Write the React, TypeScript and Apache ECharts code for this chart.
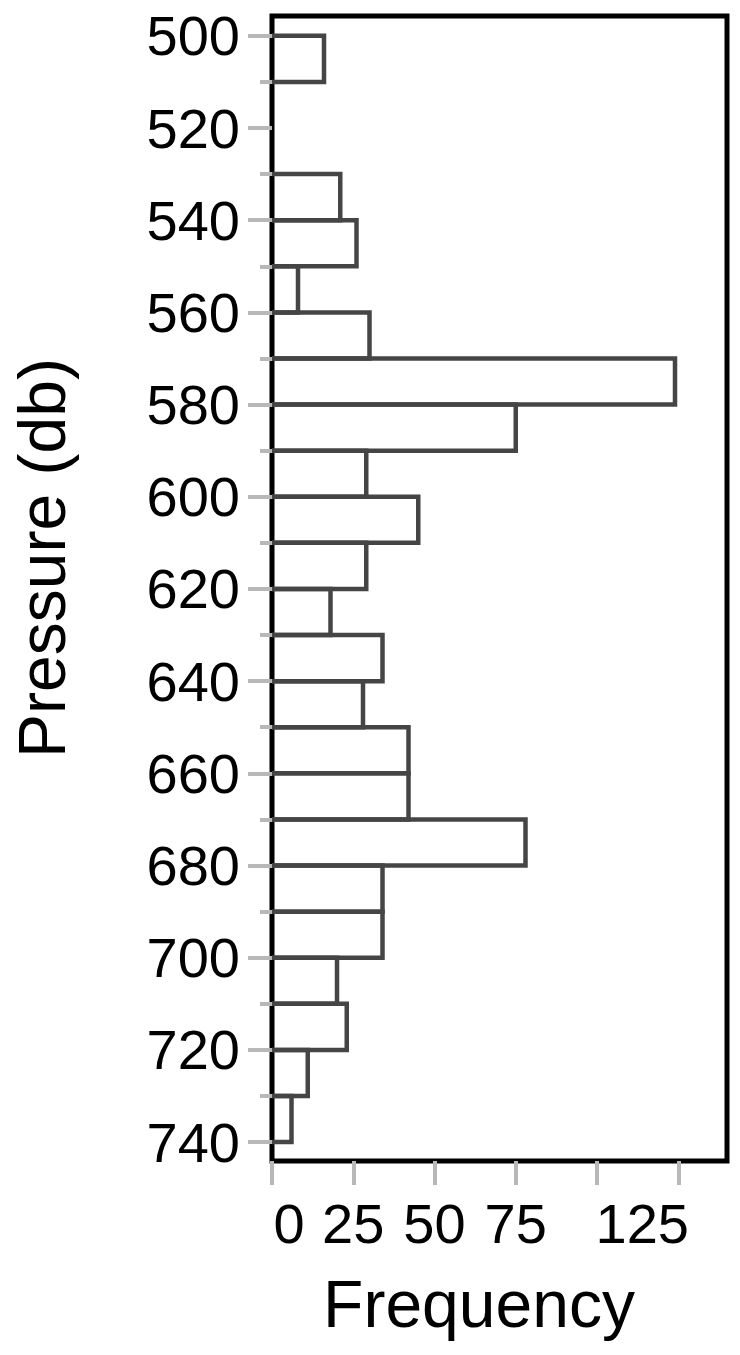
import React, { useEffect, useRef } from "react";
import * as echarts from "echarts";

// Histogram bins (Pressure, db): lower edges, width 10
const binStarts = [500, 510, 520, 530, 540, 550, 560, 570, 580, 590, 600, 610, 620, 630, 640, 650, 660, 670, 680, 690, 700, 710, 720, 730];
const binWidth = 10;
const frequencies = [16, 0, 0, 21, 26, 8, 30, 124, 75, 29, 45, 29, 18, 34, 28, 42, 42, 78, 34, 34, 20, 23, 11, 6];

const yMajorTicks = [500, 520, 540, 560, 580, 600, 620, 640, 660, 680, 700, 720, 740];
const yMinorTicks = [510, 530, 550, 570, 590, 610, 630, 650, 670, 690, 710, 730];
const xTicks = [0, 25, 50, 75, 100, 125];
const xTickLabels = [0, 25, 50, 75, 125];

const xTitle = "Frequency";
const yTitle = "Pressure (db)";

const FONT = "'Liberation Sans', Arial, Helvetica, sans-serif";
const TICK_COLOR = "#b8b8b8";

export default function App() {
  const ref = useRef<HTMLDivElement>(null);

  useEffect(() => {
    if (!ref.current) return;
    const chart = echarts.init(ref.current, null, { renderer: "svg" });
    const data = binStarts.map((s, i) => [s, s + binWidth, frequencies[i]]);
    const labelText = { fontSize: 56, fontFamily: FONT, color: "#000" };

    const option: any = {
      animation: false,
      backgroundColor: "#fff",
      grid: {
        left: 272,
        top: 16,
        width: 455,
        height: 1145,
        show: true,
        borderColor: "#000",
        borderWidth: 5,
        backgroundColor: "transparent",
      },
      xAxis: {
        type: "value",
        min: 0,
        max: 140,
        axisLine: { show: false },
        splitLine: { show: false },
        axisTick: {
          show: true,
          customValues: xTicks,
          length: 24,
          lineStyle: { color: TICK_COLOR, width: 4 },
        },
        axisLabel: {
          customValues: xTickLabels,
          margin: 34,
          ...labelText,
          formatter: (v: number) => {
            if (v === xTickLabels[0]) return `{first|${v}}`;
            if (v === xTickLabels[xTickLabels.length - 1]) return `{last|${v}}`;
            return String(v);
          },
          rich: {
            first: { ...labelText, padding: [0, 0, 0, 34] },
            last: { ...labelText, padding: [0, 72, 0, 0] },
          },
        },
      },
      yAxis: [
        {
          type: "value",
          inverse: true,
          min: 495.7,
          max: 744.1,
          axisLine: { show: false },
          splitLine: { show: false },
          axisTick: {
            show: true,
            customValues: yMajorTicks,
            length: 24,
            lineStyle: { color: TICK_COLOR, width: 4 },
          },
          axisLabel: {
            customValues: yMajorTicks,
            margin: 32,
            ...labelText,
          },
        },
        {
          type: "value",
          inverse: true,
          position: "left",
          min: 495.7,
          max: 744.1,
          axisLine: { show: false },
          splitLine: { show: false },
          axisLabel: { show: false },
          axisTick: {
            show: true,
            customValues: yMinorTicks,
            length: 12,
            lineStyle: { color: TICK_COLOR, width: 4 },
          },
        },
      ],
      series: [
        {
          type: "custom",
          xAxisIndex: 0,
          yAxisIndex: 0,
          data,
          encode: { x: 2, y: [0, 1] },
          renderItem: (params: any, api: any) => {
            const lo = api.value(0);
            const hi = api.value(1);
            const v = api.value(2);
            if (!v) return null;
            const a = api.coord([0, lo]);
            const b = api.coord([v, lo]);
            const c = api.coord([v, hi]);
            const d = api.coord([0, hi]);
            return {
              type: "polyline",
              shape: { points: [a, b, c, d] },
              style: { fill: null, stroke: "#454545", lineWidth: 4.5, lineJoin: "miter" },
            };
          },
        },
      ],
      graphic: [
        {
          type: "text",
          x: 479,
          y: 1304,
          style: {
            text: xTitle,
            font: `66px ${FONT}`,
            fill: "#000",
            textAlign: "center",
            textVerticalAlign: "middle",
          },
        },
        {
          type: "text",
          x: 42,
          y: 558,
          rotation: Math.PI / 2,
          style: {
            text: yTitle,
            font: `66px ${FONT}`,
            fill: "#000",
            textAlign: "center",
            textVerticalAlign: "middle",
          },
        },
      ],
    };
    chart.setOption(option);
    return () => chart.dispose();
  }, []);

  return (
    <div
      ref={ref}
      style={{ position: "absolute", left: 0, top: 0, width: 740, height: 1355, background: "#fff" }}
    />
  );
}
